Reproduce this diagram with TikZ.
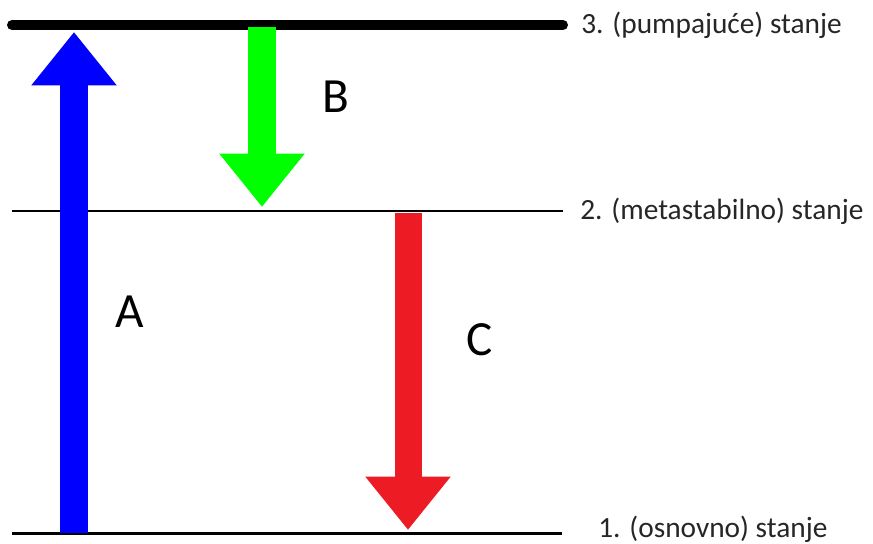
\documentclass[tikz,border=0pt]{standalone}
\usepackage{fontspec}
\setmainfont{Carlito}
\usepackage{tikz}
\usetikzlibrary{arrows.meta}
\usetikzlibrary{positioning}
\definecolor{pumpblue}{RGB}{0,0,255}
\definecolor{decaygreen}{RGB}{0,255,0}
\definecolor{laserred}{RGB}{237,28,36}
\tikzset{
    levelline/.style={
        line width=0.06cm,
        black
    },
    % thick shaft with a wide triangular head
    fatarrow/.style={
        line width=0.56cm,
        -{Triangle[length=1.07cm, width=1.64cm]}
    },
    levellabel/.style={
        anchor=west,
        inner sep=0pt,
        text=black!85,
        font=\fontsize{16.7}{19}\selectfont
    },
    arrowlabel/.style={
        inner sep=0pt,
        font=\fontsize{28}{32}\selectfont
    }
}
\begin{document}
\begin{tikzpicture}[x=0.02cm,y=-0.02cm]
    \useasboundingbox (0,0) rectangle (873,544);
    \path
    (12,25) coordinate (l3a)
    (563,25) coordinate (l3b)
    (12,211) coordinate (l2a)
    (563,211) coordinate (l2b)
    (12,533) coordinate (l1a)
    (562,533) coordinate (l1b)
    (74,533) coordinate (a0)
    (74,32) coordinate (a1)
    (262,27) coordinate (b0)
    (262,207) coordinate (b1)
    (408,213) coordinate (c0)
    (408,530) coordinate (c1)
    ;

    % energy levels
    \draw[levelline,line width=0.2cm,line cap=round] (l3a) -- (l3b);
    \draw[levelline] (l2a) -- (l2b);
    \draw[levelline] (l1a) -- (l1b);

    % transitions
    \draw[fatarrow,pumpblue] (a0) -- (a1);
    \draw[fatarrow,decaygreen] (b0) -- (b1);
    \draw[fatarrow,laserred,line width=0.54cm] (c0) -- (c1);

    % labels
    \node[levellabel] (t3) at (581,25) {3. (pumpajuće) stanje};
    \node[levellabel] (t2) at (580,211) {2. (metastabilno) stanje};
    \node[levellabel] (t1) at (598,529) {1. (osnovno) stanje};

    \node[arrowlabel] (la) at (130,312) {A};
    \node[arrowlabel] (lb) at (336,97) {B};
    \node[arrowlabel] (lc) at (480,340) {C};
\end{tikzpicture}
\end{document}
